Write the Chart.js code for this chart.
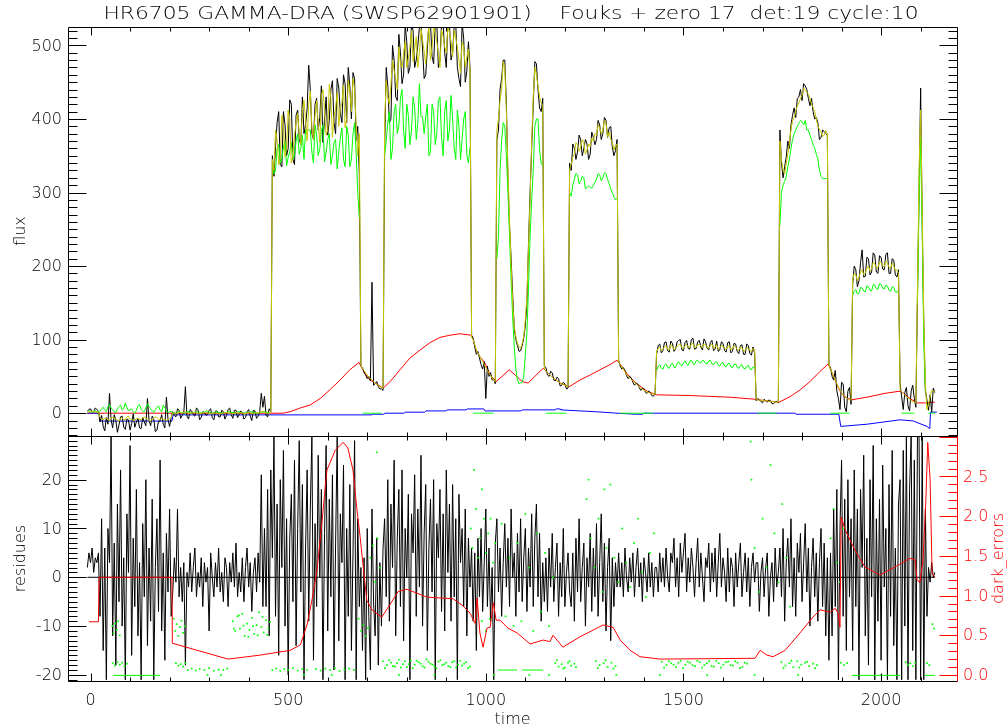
<!DOCTYPE html>
<html>
<head>
<meta charset="utf-8">
<script src="https://cdn.jsdelivr.net/npm/chart.js@4.4.1/dist/chart.umd.min.js"></script>
<style>
  html, body { margin: 0; padding: 0; background: #fff; overflow: hidden; }
  #wrap { position: relative; width: 1007px; height: 727px; }
  canvas { position: absolute; left: 0; }
  #topChart { top: 0; }
  #bottomChart { top: 420px; }
</style>
</head>
<body>
<div id="wrap">
  <canvas id="topChart" width="1007" height="437"></canvas>
  <canvas id="bottomChart" width="1007" height="307"></canvas>
</div>
<script>
// all sampled series use a 4 s grid starting at t = -8
const GRID_T0 = -8;
const GRID_DT = 4;

// flux panel: measured (black), fit (yellow), second fit (green)
const topBlack = [
  3, 5, 6, 1, 2, 7, 5, 3,
  -12, -3, -18, -24, -6, -15, 27, -9, -20, -2, -10, -26, -16, -5, -4, -19, -22, -8, -9, -23, -14, -1, -19, -12, -7, -20, -21, -6,
  -12, -17, 20, -10, -17, -4, -8, -25, -23, -11, -11, -2, -15, -20, 22, -9, -18, -6,
  2, -3, -5, 6, 4, -7, -3, 1, 36, -4, -8, 5, 3, -2, -4, 7, 5, -9, -6, 2, 1, -3, -2, 4, 6, -6, -9, 3, 3, -5,
  -5, 4, 2, -8, -3, 5, 7, -2, -7, 4, 4, -6, -2, 3, 1, -8, -6, 2, 5, -4, -10, 4, 3, -7, -4, 2, 27, 8, 23, -3, -5, 6, 2,
  350, 322, 362, 395, 410, 338, 335, 410, 392, 350, 360, 426, 420, 345, 338, 405, 412, 372, 365, 430,
  380, 392, 414, 473, 440, 380, 372, 420, 428, 385, 402, 445, 368, 400, 430, 378, 398, 440, 452, 395,
  380, 455, 442, 408, 395, 460, 448, 395, 470, 445, 400, 463, 455, 371, 390, 325,
  64, 62, 55, 52, 47, 50, 44, 178, 38, 40, 43, 36, 33, 33, 31,
  360, 470, 445, 395, 400, 500, 480, 430, 425, 515, 490, 448, 460, 528, 505, 462, 470, 530, 520, 470, 480,
  500, 525, 530, 495, 455, 460, 495, 530, 530, 485, 475, 530, 530, 470, 480, 530, 530, 490, 470, 530,
  530, 480, 490, 528, 530, 470, 455, 444, 530, 510, 450, 465, 505, 470,
  106, 102, 90, 80, 84, 75, 66, 60, 70, 20, 64, 50, 55, 45, 46, 40,
  372, 385, 440, 455, 480, 480, 420, 318, 255, 210, 160, 115, 100, 92, 84, 85, 92, 102, 120, 150,
  230, 300, 360, 420, 478, 475, 440, 415, 410, 428,
  64, 62, 52, 50, 57, 55, 45, 44, 49, 47, 37, 38, 42, 40, 33, 34,
  340, 330, 366, 360, 345, 355, 378, 372, 350, 360, 372, 366, 345, 352, 382, 375, 365, 372, 398, 392,
  372, 380, 402, 398, 375, 388, 390, 362, 350, 357, 372,
  72, 64, 60, 62, 58, 51, 47, 50, 48, 42, 38, 41, 40, 35, 31, 34, 33, 28, 27, 30, 28, 24, 23, 26,
  80, 92, 94, 82, 85, 96, 97, 85, 83, 98, 95, 84, 87, 97, 99, 100, 86, 85, 96, 99, 88,
  87, 100, 102, 87, 88, 97, 99, 90, 86, 101, 97, 88, 86, 96, 99, 85, 87, 98, 84, 86,
  97, 95, 85, 83, 96, 97, 82, 84, 95, 94, 84, 81, 92, 93, 80, 80, 94, 92, 81, 79, 90, 82,
  17, 20, 18, 16, 14, 19, 17, 15, 18, 17, 13, 13, 15, 16, 14,
  385, 340, 320, 335, 348, 370, 360, 392, 405, 415, 402, 428, 430, 440, 425, 448, 445,
  440, 428, 418, 428, 410, 400, 402, 395, 372, 375, 385, 383, 380, 378,
  66, 62, 50, 45, 58, 30, 20, 5, 42, 40, 8, 2, 30, 35, 12,
  175, 200, 195, 172, 180, 205, 222, 185, 186, 212, 210, 188, 192, 218, 215, 192, 190, 214, 212, 196,
  195, 216, 218, 190, 190, 210, 208, 188, 185, 195,
  40, 22, 5, 28, 35, 10, 3, 30, 38, 20, 8,
  160, 300, 442, 260, 120, 30,
  18, 4, 25, 2, 34, 28
];

const topYellow = [
  2, 2, 2, 2, 2, 2, 2, 2,
  -6, -8, -9, -7, -7, -9, -10, -6, -5, -8, -8, -10, -11, -7, -6, -9, -9, -5, -4, -8, -8, -10, -10, -7, -7, -8, -9, -6,
  -5, -7, -8, -10, -11, -8, -7, -5, -6, -8, -9, -7, -8, -9, -10, -8, -7, -6,
  0, 0, -1, 0, 1, 1, 0, 1, 2, 1, -1, 0, 0, 1, 1, 0, -1, 0, 0, 0, 1, 1, 0, 0, -1, 0, 1, 0, 0, -1,
  -1, 0, 0, 1, 1, 0, 0, -1, -1, 0, 1, 0, 0, 1, 0, -1, -1, 0, 1, 0, 0, -1, 0, 1, 0, 1, 2, 2, 1, 0, 0, 0, 1,
  345, 330, 385, 372, 338, 345, 405, 392, 348, 360, 412, 400, 340, 352, 378, 395, 408, 380, 365, 412,
  426, 398, 370, 420, 438, 388, 372, 405, 425, 392, 368, 432, 440, 410, 378, 385, 447, 428, 375, 402,
  415, 436, 390, 415, 422, 446, 388, 400, 452, 438, 410, 455, 440, 392, 350, 380,
  65, 61, 58, 55, 52, 49, 47, 45, 43, 41, 39, 38, 36, 35, 34,
  395, 452, 430, 420, 448, 480, 466, 455, 440, 498, 475, 470, 489, 505, 470, 482, 498, 520, 478, 495, 512,
  470, 490, 522, 507, 492, 475, 508, 525, 480, 498, 526, 517, 505, 489, 470, 521, 512, 498, 490, 525,
  518, 505, 485, 521, 510, 498, 480, 462, 505, 498, 470, 484, 495, 466,
  103, 100, 93, 86, 82, 78, 74, 70, 66, 62, 58, 54, 51, 48, 45, 43,
  385, 400, 425, 440, 478, 470, 410, 330, 262, 200, 150, 118, 104, 95, 90, 88, 95, 105, 128, 160,
  225, 290, 370, 430, 470, 460, 445, 430, 422, 418,
  60, 58, 55, 53, 51, 49, 47, 46, 44, 43, 41, 40, 39, 38, 37, 36,
  332, 338, 348, 352, 368, 365, 356, 362, 372, 368, 352, 358, 366, 362, 374, 370, 380, 378, 392, 388,
  380, 385, 398, 394, 376, 382, 372, 368, 358, 364, 366,
  70, 66, 63, 60, 56, 53, 50, 48, 46, 44, 42, 40, 38, 36, 34, 32.5, 31, 30, 29, 28, 27, 26.5, 26, 25.5,
  84, 88, 90, 85, 87, 90, 92, 87, 86, 93, 91, 86, 88, 91, 93, 94, 89, 88, 92, 93, 90,
  89, 94, 95, 89, 90, 93, 94, 91, 89, 94, 93, 90, 88, 92, 94, 88, 90, 93, 87, 89,
  92, 91, 88, 87, 91, 92, 86, 88, 92, 90, 87, 86, 90, 89, 84, 85, 89, 88, 85, 84, 88, 86,
  18.5, 18, 17.8, 17.5, 17.2, 17, 16.8, 16.5, 16.2, 16, 15.8, 15.5, 15.2, 15, 15,
  370, 345, 330, 325, 340, 352, 368, 385, 398, 402, 410, 418, 422, 428, 432, 442, 440,
  436, 434, 428, 420, 416, 410, 400, 390, 386, 382, 376, 378, 384, 380,
  66, 60, 55, 50, 45, 40, 35, 31, 28, 25, 23, 21, 19.5, 18, 18,
  182, 190, 188, 180, 185, 192, 195, 188, 190, 198, 200, 193, 196, 205, 203, 197, 198, 206, 205, 200,
  199, 207, 204, 198, 197, 204, 200, 194, 195, 190,
  32, 29, 27, 25, 23, 21, 19, 17.5, 16, 15, 14,
  170, 330, 412, 280, 130, 40,
  5, 12, 22, 31, 30, 29
];

// null marks the sample where the green trace is lifted between segments
const topGreen = [
  2, 3, 3, 1, 2, 4, 1, 2,
  3, 6, 8, 4, 2, 9, 12, 7, 5, 2, 1, 6, 9, 11, 4, 6, 14, 8, 3, 5, 6, 2, 0, 4, 10, 12, 5, 3,
  2, 7, 13, 9, 6, 3, 1, 5, 8, 10, 4, 2, 11, 7, 3, 1, 2, 3,
  1, 0, 0, 2, 2, 1, 1, 0, 0, 2, 2, 1, 0, 1, 1, 2, 2, 0, 0, 1, 1, 3, 3, 1, 1, 0, 0, 2, 2, 1,
  1, 0, 0, 1, 1, 2, 2, 1, 1, 0, 0, 2, 2, 1, 1, 0, 0, 1, 1, 2, 2, 1, 1, 0, 0, 1, 1, 2, 2, 1, 1, 0, null,
  340, 325, 330, 360, 365, 340, 345, 362, 370, 336, 348, 355, 368, 345, 350, 370, 380, 352, 360, 378,
  345, 385, 385, 385, 385, 355, 340, 392, 378, 350, 360, 383, 392, 342, 355, 372, 380, 338, 350, 368,
  372, 332, 355, 375, 388, 345, 335, 390, 378, 335, 345, 380, 395, 353, 300, 265,
  null, 0, 0, 0, 0, 0, 0, 0, 0, 0, 0, 0, 0, 0, null,
  350, 370, 395, 410, 345, 360, 410, 420, 380, 390, 428, 440, 385, 360, 420, 405, 365, 385, 430, 415, 372,
  395, 448, 403, 403, 380, 403, 420, 350, 355, 420, 410, 365, 380, 425, 430, 375, 350, 410, 425, 370,
  385, 432, 400, 360, 345, 412, 390, 345, 372, 400, 410, 350, 340, 362,
  null, 0, 0, 0, 0, 0, 0, 0, 0, 0, 0, 0, 0, 0, 0, null,
  210, 240, 330, 370, 395, 390, 350, 300, 240, 180, 130, 90, 60, 45, 40, 41, 42, 50, 80, 110,
  170, 240, 290, 330, 390, 400, 400, 358, 340, 336,
  null, 0, 0, 0, 0, 0, 0, 0, 0, 0, 0, 0, 0, 0, 0, null,
  300, 295, 310, 318, 326, 324, 312, 316, 322, 320, 305, 307, 309, 307, 306, 310, 314, 318, 326, 324,
  316, 320, 327, 326, 318, 312, 305, 300, 294, 290, 292,
  null, 0, 0, 0, 0, 0, 0, 0, 0, 0, 0, 0, 0, 0, 0, 0, 0, 0, 0, 0, 0, 0, 0, null,
  58, 63, 66, 61, 60, 65, 67, 62, 61, 66, 68, 63, 62, 68, 70, 66, 64, 69, 71, 67, 65,
  71, 72, 67, 66, 71, 72, 69, 68, 72, 71, 68, 67, 71, 72, 67, 66, 69, 70, 65, 64,
  68, 69, 64, 63, 67, 68, 63, 62, 66, 67, 62, 61, 65, 66, 61, 60, 64, 65, 60, 59, 63, 62,
  null, 0, 0, 0, 0, 0, 0, 0, 0, 0, 0, 0, 0, 0, null,
  255, 300, 310, 315, 322, 335, 345, 360, 372, 380, 385, 390, 394, 398, 396, 392, 398,
  385, 385, 378, 372, 365, 360, 352, 346, 330, 322, 319, 319, 319, 319,
  null, 0, 0, 0, 0, 0, 0, 0, 0, 0, 0, 0, 0, 0, null,
  160, 166, 168, 162, 163, 171, 170, 166, 165, 173, 172, 167, 166, 175, 174, 169, 168, 176, 175, 170,
  169, 174, 173, 167, 166, 172, 171, 165, 164, 168,
  null, 0, 0, 0, 0, 0, 0, 0, 0, 0, null,
  150, 290, 375, 245, 95, 30,
  null, 0, 0, 0, 0, 0
];

// dark current model (red) and baseline (blue), flux units
const redTime = [-8, 454, 487, 505, 530, 555, 581, 606, 631, 656, 679, 687, 697, 707, 720, 732, 740, 758, 783, 808,
  834, 859, 884, 909, 935, 963, 968, 975, 985, 998, 1011, 1026, 1041, 1059, 1074, 1092, 1107, 1124, 1145, 1162,
  1175, 1188, 1211, 1238, 1264, 1289, 1314, 1332, 1345, 1357, 1370, 1382, 1395, 1408, 1431, 1517, 1618, 1681, 1706, 1742,
  1770, 1795, 1820, 1845, 1866, 1876, 1886, 1896, 1909, 1924, 1972, 2010, 2048, 2060, 2073, 2091, 2111, 2136];
const redFlux = [0, 0, 0, 2, 7, 11, 20, 32, 45, 59, 69, 61, 52, 45, 41, 37, 34, 43, 59, 75,
  86, 96, 103, 106, 108, 106, 100, 86, 77, 68, 52, 43, 50, 59, 52, 43, 41, 50, 61, 52,
  46, 41, 36, 45, 52, 59, 66, 72, 63, 54, 46, 40, 35, 30, 25, 24, 21.7, 19, 17, 15,
  22.6, 31.6, 43, 56.5, 67, 55, 42, 30, 22, 18, 22.6, 27, 30, 26, 20, 14, 14, 15];

const blueTime = [-8, 22, 24, 206, 209, 710, 712, 742, 745, 793, 796, 845, 849, 899, 902, 950, 953, 995, 998, 1089,
  1092, 1175, 1177, 1188, 1190, 1238, 1284, 1332, 1377, 1397, 1400, 1782, 1785, 1893, 1898, 1964, 2048, 2081, 2116, 2123,
  2125, 2141];
const blueFlux = [0, 0, -10.7, -10.7, -2.3, -2.3, -1.4, -1.4, 0, 0, 1.4, 1.4, 3.1, 3.1, 4.5, 4.5, 5.8, 5.8, 3.1, 3.1,
  4.5, 4.5, 5.8, 5.8, 4.5, 3.1, 1.8, 0, -1.4, -1.4, 0, 0, -1.4, -1.4, -18, -15, -9, -10.5, -18, -21,
  1.4, 1.4];

// residues
const residues = [
  2, 5, 3, 6, 1, 4, 3, 5,
  -8, 12, -15, 6, -21, 10, 3, 29, -12, 7, -18, 15, -5, 22, -10, 4, -21, 13, 1, 27, -16, 8, -6, 18, -12, 3, -21, 11,
  -4, 20, -14, 6, -9, 16, -21, 2, 12, -7, 24, -11, 5, -17, 9, -3, 14, -8,
  -3, 4, -1, 14, -4, 2, -5, 3, -18, 1, -2, 5, -3, 2, 6, -4, 1, -2, 4, -6, 3, -1, 2, -11, 5, 0, -4, 3, -2, 6,
  -3, 1, -5, 4, 2, -6, 3, -1, 5, -2, 7, -4, 1, -3, 4, -5, 2, 6, -2, 3, -7, 1, 4, -3, 5, -1, 21, -6,
  10, -6, 18, -12, 22, 4, 29, -8, 15, -16, 20, 2, 26, -10, 12, -20, 8, 17, -5, 24, -14, 10, 28, -3, 19, -21, 6, 22, -9, 14,
  29, -17, 11, -6, 25, 0, 18, -21, 9, 27, -11, 16, -4, 21, -19, 7, 29, -13, 13, 3, 23, -21, 10, -8, 19, -15, 5, 28, -21, 12, -6, 2,
  -15, 4, -21, 10, -8, -19, 14, -5, -12, 8, -18, 3, -10, 6,
  12, -4, 20, -9, 15, 2, 24, -12, 8, 18, -6, 22, -13, 10, 0, 17, -21, 13, 5, 21, -8, 14, -2, 25, -10, 9, 19, -15,
  6, 16, -3, 20, -21, 11, 4, 18, -7, 13, -11, 22, 1, 15, -9, 19, -4, 12, -21, 17, 3, 10, -6, 14, -12, 8, -2, 6,
  -9, 5, -15, 8, -4, 10, -7, 3, 14, -6, 6, -9, 2, -21, 7, 12,
  -3, 6, -8, 3, 11, -2, 8, -6, 14, 0, 5, -8, 9, -3, 12, -5, 4, 10, -7, 6, -2, 13, -6, 8, 15, -4, 9, -9, 3, -5,
  4, -7, 6, -2, 9, -5, 2, 7, -8, 3, -4, 10, -6, 1, 5, -3,
  -6, 5, -9, 8, -3, 12, -5, 2, 7, -10, 4, -2, 9, -7, 6, -4, 11, -8, 3, 13, -5, 7, -11, 2, 8, -13, 4, -6, 3, -2,
  5, -2, 3, -4, 6, 0, -3, 4, -1, 5, -4, 2, 6, -2, 3, -5, 4, 1, -3, 5, -2, 3, -4, 2,
  2, -3, 5, -1, 4, -2, 6, 0, -3, 5, 3, 8, -2, 4, -4, 7, 1, 5, 9, -3, 4, -1, 6, 2, -4, 3, 8, -2, 5, 0, -5, 4,
  2, 7, -3, 5, -1, 6, -4, 3, 9, -2, 4, 1, -5, 6, -3, 4, 2, -6, 5, -2, 3, 7, -4, 1, 5, -3, 4, -6, 2, 5, -1, 3,
  3, -7, 1, 4, -4, 2, 5, -8, 0, 3, -5, 6, -2, 1,
  6, -4, 10, -9, 3, 8, -2, 12, -6, 4, -8, 7, 1, 9, -5, 3, 11, -3, 6, -10, 2, 8, -4, 5, -9, 3, 10, -6, 7, -12, 4, -17,
  5, -12, 14, -6, 18, -21, 10, 24, -8, 16, -15, 20, -4, 12,
  -15, 22, -6, 14, -21, 18, 2, 25, -12, 8, -18, 20, -4, 27, -21, 12, -9, 16, -17, 23, -2, 10, -21, 19, -8, 26, -14, 6, -21, 15,
  20, -21, 26, -10, 29, -21, 18, 29, -15, 24, -21, 29,
  29, -21, 29, -21, 14, -8,
  2, -1, 3, 0, 1
];

// dark_errors (right axis)
const darkTime = [-4, 20, 21.5, 206, 207, 277, 348, 429, 505, 531, 548, 560, 573, 586, 598, 619, 639, 651, 664, 674,
  682, 692, 699, 712, 725, 737, 758, 778, 800, 826, 851, 884, 917, 940, 960, 973, 978, 985, 993, 1003,
  1011, 1019, 1026, 1036, 1056, 1079, 1112, 1145, 1162, 1170, 1180, 1195, 1238, 1297, 1322, 1340, 1365, 1390, 1441, 1681,
  1694, 1711, 1727, 1757, 1795, 1828, 1846, 1871, 1884, 1891, 1896, 1899, 1909, 1934, 1959, 1997, 2035, 2073, 2086, 2091,
  2098, 2106, 2113, 2118, 2124, 2129, 2136];
const darkErrors = [0.67, 0.67, 1.23, 1.23, 0.40, 0.30, 0.20, 0.25, 0.31, 0.38, 0.64, 0.94, 1.32, 1.95, 2.58, 2.83, 2.93, 2.86, 2.58, 2.08,
  1.74, 1.26, 0.94, 0.82, 0.77, 0.73, 0.89, 1.05, 1.08, 1.03, 0.98, 0.97, 0.96, 0.88, 0.78, 0.65, 0.97, 0.53, 0.35, 0.59,
  0.60, 0.91, 0.69, 0.69, 0.59, 0.53, 0.39, 0.44, 0.42, 0.50, 0.44, 0.35, 0.48, 0.63, 0.60, 0.44, 0.31, 0.23, 0.20, 0.21,
  0.31, 0.25, 0.23, 0.31, 0.53, 0.73, 0.82, 0.79, 0.84, 0.78, 0.60, 1.99, 1.83, 1.57, 1.36, 1.26, 1.36, 1.47, 1.45, 1.20,
  1.16, 1.45, 2.17, 2.93, 2.46, 1.28, 1.23];

// green residue points [time, residue]
const greenDots = [
  [55, -10], [58, -11.5], [62, -9.5], [66, -10.8], [70, -9], [74, -11.9],
  [56, -17.6], [62, -18.1], [68, -17.4], [74, -17.9], [80, -17.5], [86, -18.2], [92, -17.7],
  [210, -8.5], [214, -11], [218, -9.6], [222, -12], [226, -10.2], [230, -8.9], [234, -11.4], [238, -10],
  [216, -17.6], [222, -18.1], [228, -17.8], [234, -18.3], [240, -17.6],
  [246, -19], [256, -18.7], [266, -19.1], [276, -18.8], [288, -19], [300, -18.6], [312, -19.2], [324, -18.9], [336, -19], [346, -18.7],
  [360, -9], [366, -11], [372, -8], [378, -10.5], [384, -7.5], [390, -12], [396, -9.5], [402, -10.8], [408, -8.3],
  [414, -11.6], [420, -9.8], [426, -7.2], [432, -10.2], [438, -11.3], [444, -8.8], [450, -10.5], [454, -9.2],
  [363, -10.5], [375, -7.8], [387, -9.9], [399, -12.2], [411, -10], [423, -11.9], [435, -8.1], [447, -11.8],
  [460, -19], [470, -18.7], [480, -19.2], [490, -18.8], [500, -19], [512, -18.6], [524, -19.1], [536, -18.8], [548, -19],
  [570, -18.8], [582, -19.1], [594, -18.7], [606, -19], [618, -18.6], [630, -19.2], [642, -18.9], [654, -18.7], [666, -19],
  [678, -8.5], [684, -11], [690, -9.8], [696, -12], [702, -10.4], [708, 4], [714, 6.5], [720, -1], [726, 8], [732, 2], [724, 25.6],
  [740, -17.2], [750, -18], [760, -17.5], [770, -18.3], [780, -16.9], [790, -17.8], [800, -18.4], [810, -17.1], [820, -17.9],
  [830, -17.4], [840, -18.2], [850, -16.8], [860, -17.7], [870, -18.3], [880, -17.3], [890, -18], [900, -17.5], [910, -18.4],
  [920, -17.2], [930, -17.9], [940, -18.1], [950, -17.4], [960, -18.3],
  [745, -18.6], [755, -17], [765, -18.2], [775, -17.6], [785, -18.5], [795, -17.2], [805, -17.8], [815, -18.6], [825, -17.1],
  [835, -17.7], [845, -18.5], [855, -17.3], [865, -17.9], [875, -18.6], [885, -17], [895, -17.8], [905, -18.2], [915, -17.4],
  [925, -18.5], [935, -17.1], [945, -17.7], [955, -18.6],
  [962, 10], [966, 6], [970, 22], [975, 14], [980, 4], [985, 8], [990, 18], [995, 12], [1000, 5], [1006, 9], [1012, 12],
  [1018, 3], [1024, 7], [990, -9], [1000, -11], [1010, -8.5],
  [1040, 11], [1050, -8], [1060, 4], [1070, -10], [1080, 7], [1090, -9], [1100, 13], [1110, 2], [1120, -11], [1130, 9],
  [1140, -7], [1150, 5], [1160, -10], [1170, 0],
  [1176, -17.6], [1184, -18.3], [1192, -17.8], [1200, -18.5], [1208, -17.5], [1216, -18.1], [1224, -17.7],
  [1180, -17], [1196, -18.7], [1212, -17.2], [1228, -18.4],
  [1255, 16], [1265, 8], [1275, 2], [1285, 12], [1295, -3], [1305, 6], [1315, 19], [1325, 4], [1335, -1], [1260, 20], [1300, 18],
  [1278, -17.2], [1288, -18], [1298, -17.6], [1308, -18.4], [1318, -17.5], [1328, -18.2],
  [1283, -18.6], [1303, -17], [1323, -18.7],
  [1345, 10], [1355, 3], [1365, -2], [1375, 7], [1385, 12], [1395, 1], [1405, -4], [1415, 5], [1425, 9],
  [1445, -17.3], [1457, -18], [1469, -17.6], [1481, -18.4], [1493, -17.1], [1505, -17.9], [1517, -17.5], [1529, -18.2],
  [1541, -17.4], [1553, -18], [1565, -17.2], [1577, -18.3], [1589, -17.6], [1601, -17.9], [1613, -17.3], [1625, -18.1],
  [1637, -17.5], [1649, -18.4], [1661, -17.7],
  [1451, -18.5], [1463, -17.2], [1475, -17.9], [1487, -17.5], [1499, -18.6], [1511, -17.3], [1523, -18], [1535, -17.1],
  [1547, -18.5], [1559, -17.6], [1571, -18.2], [1583, -17.1], [1595, -18.5], [1607, -17.4], [1619, -18], [1631, -17.2],
  [1643, -18.6], [1655, -17.5],
  [1670, 27.8], [1672, 20], [1680, 6], [1690, -3], [1700, 12], [1710, 2], [1720, 23], [1730, 9], [1740, -1], [1750, 15],
  [1760, 4], [1770, -6],
  [1748, -17.4], [1758, -18.1], [1768, -17.6], [1778, -18.4], [1788, -17.2], [1798, -17.9], [1808, -17.5], [1818, -18.2],
  [1828, -17.7], [1838, -18], [1753, -18.6], [1773, -17.1], [1793, -18.5], [1813, -17.3], [1833, -18.6],
  [1872, 8], [1880, 14], [1888, 3], [1896, -1], [1904, 10],
  [1898, -17.5], [1906, -18], [1914, -17.6],
  [2062, -17.4], [2068, -18], [2074, -17.6], [2080, -18.2], [2086, -17.5],
  [2116, -17.6], [2122, -18], [2130, -9.6], [2134, -10.5],
  [296, -20], [330, -20], [540, -20], [610, -20], [780, -20], [870, -20], [1020, -20], [1110, -20], [1160, -20],
  [1330, -20], [1440, -20], [1560, -20], [1680, -20], [1790, -20], [2000, -20]
];

// flat green runs [start, end, residue]
const greenRuns = [[57, 176, -20.1], [1031, 1079, -19], [1092, 1145, -19], [1926, 2048, -20.1], [2111, 2136, -20.1]];

// axis labels
const fluxTicks = [0, 100, 200, 300, 400, 500];
const residueTicks = [-20, -10, 0, 10, 20];
const darkTicks = [0, 0.5, 1, 1.5, 2, 2.5];
const timeTicks = [0, 500, 1000, 1500, 2000];

const TITLE = "HR6705 GAMMA-DRA (SWSP62901901)    Fouks + zero 17  det:19 cycle:10";
const FONT = '"DejaVu Sans", "Liberation Sans", sans-serif';
const LABEL_FONT = `200 16px ${FONT}`;
const YELLOW = "#c8c800";
const GREEN = "#00ff00";
const RED = "#ff0000";

const sampleTime = topBlack.map((_, i) => GRID_T0 + GRID_DT * i);
const pts = (xs, ys) => xs.map((x, i) => ({ x, y: ys[i] }));

function tickRange(min, max, step) {
  const out = [];
  for (let k = Math.ceil(min / step - 1e-9); k * step <= max + 1e-9; k++) out.push(+(k * step).toFixed(6));
  return out;
}

// IDL-like frame, inward ticks, tick labels and titles
const idlAxes = {
  id: "idlAxes",
  afterDraw(chart, args, o) {
    const ctx = chart.ctx;
    const a = chart.chartArea;
    const xs = chart.scales.x;
    const L = Math.round(a.left) + 0.5, R = Math.round(a.right) + 0.5;
    const T = Math.round(a.top) + 0.5, B = Math.round(a.bottom) + 0.5;
    const seg = (x1, y1, x2, y2, c) => {
      ctx.strokeStyle = c;
      ctx.beginPath();
      ctx.moveTo(x1, y1);
      ctx.lineTo(x2, y2);
      ctx.stroke();
    };
    ctx.save();
    ctx.lineWidth = 1;
    seg(L, T, R, T, "#000");
    seg(L, B, R, B, "#000");
    seg(L, T, L, B, "#000");
    seg(R, T, R, B, o.rightColor || "#000");

    tickRange(xs.min, xs.max, 100).forEach((v) => {
      const p = Math.round(xs.getPixelForValue(v)) + 0.5;
      const len = v % 500 === 0 ? 8 : 4;
      seg(p, T, p, T + len, "#000");
      seg(p, B, p, B - len, "#000");
    });

    ctx.font = LABEL_FONT;
    ctx.textBaseline = "middle";
    if (o.xLabels) {
      ctx.fillStyle = "#000";
      ctx.textAlign = "center";
      o.xLabels.values.forEach((v) => ctx.fillText(String(v), xs.getPixelForValue(v), o.xLabels.y));
    }

    o.yAxes.forEach((ax) => {
      const s = chart.scales[ax.id];
      tickRange(s.min, s.max, ax.minor).forEach((v) => {
        const p = Math.round(s.getPixelForValue(v)) + 0.5;
        const r = v / ax.major;
        const len = Math.abs(r - Math.round(r)) < 1e-6 ? 18 : 9;
        if (ax.side === "left") seg(L, p, L + len, p, ax.color);
        else seg(R, p, R - len, p, ax.color);
      });
      if (ax.labels) {
        ctx.fillStyle = ax.color;
        ctx.textAlign = ax.side === "left" ? "right" : "left";
        const lx = ax.side === "left" ? a.left - 6 : a.right + 6;
        ax.labels.forEach((v) => {
          const txt = ax.decimals ? v.toFixed(ax.decimals) : String(v);
          ctx.fillText(txt, lx, s.getPixelForValue(v) + 1);
        });
      }
    });

    (o.texts || []).forEach((t) => {
      ctx.save();
      ctx.font = t.font;
      ctx.fillStyle = t.color || "#000";
      ctx.textAlign = "center";
      ctx.textBaseline = "alphabetic";
      ctx.translate(t.x, t.y);
      if (t.rot) ctx.rotate(t.rot);
      if (t.width) {
        const w = ctx.measureText(t.text).width;
        ctx.scale(t.width / w, 1);
      }
      ctx.fillText(t.text, 0, 0);
      ctx.restore();
    });
    ctx.restore();
  },
};

function lineSet(label, data, color, order, extra) {
  return Object.assign({ label, data, borderColor: color, backgroundColor: color, borderWidth: 1, pointRadius: 0, order, tension: 0 }, extra || {});
}

function renderTopChart() {
  const canvas = document.getElementById("topChart");
  new Chart(canvas.getContext("2d"), {
    type: "line",
    data: {
      datasets: [
        lineSet("fit", pts(sampleTime, topYellow), YELLOW, 1),
        lineSet("fit 2", pts(sampleTime, topGreen), GREEN, 2, { spanGaps: false }),
        lineSet("flux", pts(sampleTime, topBlack), "#000000", 3),
        lineSet("baseline", pts(blueTime, blueFlux), "#0000ff", 4),
        lineSet("dark", pts(redTime, redFlux), RED, 5),
      ],
    },
    options: {
      responsive: false,
      animation: false,
      devicePixelRatio: 1,
      layout: { padding: { top: 27, right: 50, bottom: 1, left: 68 } },
      plugins: {
        legend: { display: false },
        tooltip: { enabled: false },
        idlAxes: {
          yAxes: [
            { id: "y", side: "left", major: 100, minor: 10, color: "#000", labels: fluxTicks },
            { id: "y", side: "right", major: 100, minor: 10, color: "#000" },
          ],
          texts: [
            { text: TITLE, x: 511, y: 19, font: `200 18px ${FONT}`, width: 815 },
            { text: "flux", x: 25, y: 231, rot: -Math.PI / 2, font: LABEL_FONT },
          ],
        },
      },
      scales: {
        x: { type: "linear", min: -57, max: 2192, display: false },
        y: { type: "linear", min: -31, max: 525, display: false },
      },
    },
    plugins: [idlAxes],
  });
}

function renderBottomChart() {
  const canvas = document.getElementById("bottomChart");
  const runs = [];
  greenRuns.forEach(([a, b, v]) => {
    runs.push({ x: a, y: v }, { x: b, y: v }, { x: b, y: null });
  });
  new Chart(canvas.getContext("2d"), {
    type: "line",
    data: {
      datasets: [
        lineSet("dark_errors", pts(darkTime, darkErrors), RED, 1, { yAxisID: "y2" }),
        lineSet("green pts", greenDots.map(([x, y]) => ({ x, y })), GREEN, 2, {
          showLine: false, pointRadius: 1.2, pointStyle: "rect", pointBorderWidth: 0, pointBackgroundColor: GREEN,
        }),
        lineSet("green runs", runs, GREEN, 2, { spanGaps: false }),
        lineSet("zero", [{ x: sampleTime[0], y: 0 }, { x: sampleTime[sampleTime.length - 1], y: 0 }], "#000000", 3),
        lineSet("residues", pts(sampleTime, residues), "#000000", 4),
      ],
    },
    options: {
      responsive: false,
      animation: false,
      devicePixelRatio: 1,
      layout: { padding: { top: 16, right: 50, bottom: 46, left: 68 } },
      plugins: {
        legend: { display: false },
        tooltip: { enabled: false },
        idlAxes: {
          rightColor: RED,
          xLabels: { values: timeTicks, y: 281 },
          yAxes: [
            { id: "y", side: "left", major: 10, minor: 1, color: "#000", labels: residueTicks },
            { id: "y2", side: "right", major: 0.5, minor: 0.1, color: RED, labels: darkTicks, decimals: 1 },
          ],
          texts: [
            { text: "residues", x: 25, y: 138.5, rot: -Math.PI / 2, font: LABEL_FONT },
            { text: "dark_errors", x: 1003, y: 138.5, rot: -Math.PI / 2, font: LABEL_FONT, color: RED },
            { text: "time", x: 512.5, y: 304, font: LABEL_FONT },
          ],
        },
      },
      scales: {
        x: { type: "linear", min: -57, max: 2192, display: false },
        y: { type: "linear", min: -21.25, max: 28.95, display: false },
        y2: { type: "linear", min: -0.076, max: 3.01, display: false },
      },
    },
    plugins: [idlAxes],
  });
}

renderTopChart();
renderBottomChart();
</script>
</body>
</html>
